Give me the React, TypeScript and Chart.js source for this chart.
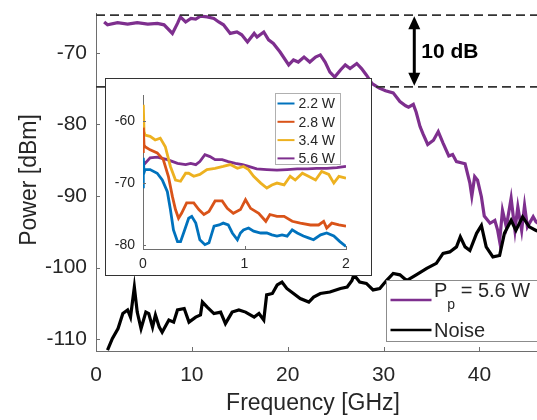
import React, { useEffect, useRef } from "react";
import { Chart, registerables } from "chart.js";
Chart.register(...registerables);

// ---------- main panel data ----------
const mainXTicks = [0, 10, 20, 30, 40];
const mainYTicks = [-110, -100, -90, -80, -70];

const pumpFreq = [0.85, 1.2, 2.25, 3.3, 4.3, 5.4, 6.4, 7.1, 7.97, 8.5, 8.8, 9.35, 9.9, 10.4, 10.9, 11.6, 12.3, 12.8, 13.3, 14.0, 14.7, 15.2, 15.8, 16.5, 16.8, 17.5, 18.0, 18.5, 19.2, 20.1, 20.6, 21.1, 21.7, 22.3, 22.9, 23.4, 23.9, 24.4, 24.9, 25.5, 26.0, 26.5, 27.2, 27.7, 28.2, 28.8, 29.5, 30.2, 31.0, 31.7, 32.3, 32.6, 33.1, 33.4, 33.8, 34.1, 34.6, 35.2, 35.7, 36.2, 36.8, 37.2, 37.6, 38.5, 39.0, 39.2, 39.5, 39.8, 40.2, 40.5, 41.1, 41.6, 41.9, 42.1, 42.4, 42.8, 43.3, 43.7, 44.0, 44.4, 44.7, 45.0, 45.6, 45.9, 46.3];
const pumpPower = [-65.7, -66.1, -65.8, -66.0, -65.8, -66.0, -65.9, -66.1, -67.3, -65.9, -65.0, -65.7, -65.2, -65.3, -64.9, -65.0, -65.2, -65.7, -66.1, -67.3, -67.1, -67.5, -68.5, -67.3, -67.8, -67.1, -68.2, -68.7, -69.9, -71.7, -71.0, -71.3, -70.6, -71.3, -70.6, -70.3, -71.3, -72.7, -73.4, -72.4, -71.7, -72.2, -71.5, -72.2, -73.1, -74.3, -74.9, -75.3, -75.6, -76.8, -77.4, -77.6, -77.2, -78.3, -80.3, -81.3, -82.8, -82.2, -81.0, -82.6, -84.4, -84.2, -85.2, -85.5, -88.2, -90.0, -87.3, -87.8, -90.1, -92.8, -93.8, -93.4, -94.8, -96.3, -92.0, -94.3, -90.3, -94.8, -91.5, -94.8, -91.3, -94.3, -92.9, -93.6, -94.0];

const noiseFreq = [1.2, 1.7, 2.3, 2.8, 3.3, 3.6, 4.0, 4.3, 4.7, 5.2, 5.5, 5.9, 6.2, 6.6, 6.9, 7.6, 8.1, 8.5, 9.2, 9.7, 10.4, 10.9, 11.1, 11.6, 12.3, 13.0, 13.5, 14.2, 14.9, 15.6, 16.5, 17.0, 17.5, 17.8, 18.4, 18.9, 19.4, 19.9, 20.6, 21.3, 22.2, 22.7, 23.4, 24.4, 25.5, 26.2, 26.7, 26.9, 27.5, 28.2, 28.9, 29.6, 30.3, 31.0, 31.7, 32.4, 33.4, 34.5, 35.5, 36.2, 36.9, 37.6, 38.0, 38.5, 39.0, 39.7, 40.2, 40.7, 41.4, 42.1, 42.6, 43.3, 43.8, 44.5, 45.2, 45.9, 46.3];
const noisePower = [-111.5, -109.9, -108.5, -106.4, -105.9, -106.9, -102.7, -106.2, -108.5, -106.2, -106.4, -108.3, -106.6, -108.3, -109.0, -107.3, -107.6, -105.9, -105.7, -107.6, -106.9, -106.6, -104.8, -105.5, -106.4, -106.2, -107.8, -106.2, -105.9, -106.2, -106.9, -106.4, -107.3, -103.8, -103.6, -102.4, -102.0, -102.9, -103.6, -104.3, -104.8, -104.1, -103.6, -103.4, -102.9, -102.7, -101.8, -101.0, -102.0, -102.2, -103.1, -102.9, -101.8, -100.8, -101.0, -101.8, -101.0, -100.1, -99.4, -98.0, -97.8, -97.1, -95.7, -97.1, -97.6, -95.2, -94.1, -97.1, -98.5, -98.3, -95.2, -93.4, -94.8, -92.9, -94.3, -94.8, -95.0];

const refLevels = [-64.75, -74.75];
const arrowFreq = 33.2;
const arrowLabel = "10 dB";
const legendMain = ["P", "p", " = 5.6 W", "Noise"];

// ---------- inset data ----------
const insetXTicks = [0, 1, 2];
const insetYTicks = [-80, -70, -60];
const insetLabels = ["2.2 W", "2.8 W", "3.4 W", "5.6 W"];

const f22 = [0, 0.003, 0.01, 0.02, 0.07, 0.14, 0.19, 0.24, 0.27, 0.30, 0.34, 0.37, 0.40, 0.45, 0.48, 0.52, 0.56, 0.61, 0.65, 0.70, 0.75, 0.79, 0.84, 0.88, 0.93, 0.96, 0.99, 1.04, 1.09, 1.16, 1.22, 1.27, 1.32, 1.37, 1.42, 1.47, 1.52, 1.58, 1.63, 1.68, 1.75, 1.81, 1.88, 1.94, 2.0];
const p22 = [-70.6, -65.9, -68.3, -67.8, -67.8, -68.4, -69.5, -71.4, -74.3, -77.6, -79.5, -79.5, -78.1, -75.7, -75.4, -76.5, -79.2, -80.0, -79.7, -77.0, -76.8, -76.5, -76.8, -78.1, -79.2, -78.1, -77.6, -77.3, -77.8, -78.1, -78.1, -78.4, -78.6, -78.4, -78.6, -77.6, -78.1, -78.6, -78.9, -79.2, -78.4, -78.1, -78.6, -79.5, -80.3];

const f28 = [0, 0.003, 0.01, 0.02, 0.07, 0.14, 0.20, 0.25, 0.29, 0.32, 0.35, 0.38, 0.43, 0.50, 0.55, 0.60, 0.65, 0.71, 0.78, 0.83, 0.89, 0.96, 1.01, 1.06, 1.14, 1.21, 1.25, 1.32, 1.39, 1.47, 1.55, 1.65, 1.73, 1.78, 1.81, 1.86, 1.93, 2.0];
const p28 = [-64.9, -61.0, -63.8, -64.1, -64.6, -65.1, -66.2, -68.9, -72.2, -74.3, -75.7, -74.9, -73.2, -73.2, -74.3, -75.1, -74.6, -72.9, -72.9, -74.1, -74.9, -74.3, -72.7, -74.1, -74.9, -76.2, -75.1, -75.4, -75.4, -76.2, -76.5, -76.8, -76.8, -76.2, -77.3, -76.5, -76.8, -77.0];

const f34 = [0, 0.003, 0.01, 0.02, 0.07, 0.12, 0.17, 0.22, 0.27, 0.32, 0.37, 0.42, 0.45, 0.50, 0.56, 0.63, 0.71, 0.79, 0.86, 0.93, 0.99, 1.04, 1.09, 1.16, 1.22, 1.27, 1.32, 1.39, 1.45, 1.50, 1.57, 1.63, 1.70, 1.76, 1.83, 1.88, 1.93, 2.0];
const p34 = [-61.4, -57.3, -61.6, -62.2, -62.4, -63.0, -62.7, -64.1, -67.3, -69.5, -69.7, -68.4, -68.4, -68.9, -68.6, -67.8, -67.6, -67.3, -67.0, -67.6, -67.3, -67.8, -68.9, -70.0, -70.8, -70.3, -70.0, -70.3, -68.9, -69.5, -68.4, -68.9, -69.5, -68.1, -68.6, -70.0, -68.9, -69.2];

const f56 = [0, 0.003, 0.02, 0.07, 0.14, 0.24, 0.34, 0.42, 0.47, 0.52, 0.56, 0.61, 0.66, 0.71, 0.78, 0.84, 0.91, 0.98, 1.04, 1.12, 1.22, 1.32, 1.42, 1.52, 1.62, 1.71, 1.81, 1.91, 2.0];
const p56 = [-68.3, -66.6, -66.8, -65.9, -65.8, -66.2, -66.8, -67.0, -66.8, -67.0, -66.5, -65.4, -65.7, -66.2, -66.2, -66.5, -66.8, -67.0, -67.3, -67.7, -67.8, -67.9, -67.8, -67.7, -67.7, -67.6, -67.6, -67.5, -67.3];

// ---------- styles ----------
const FONT = "'Liberation Sans', Arial, Helvetica, sans-serif";
const TEXT = "#262626";
const AXIS = "#6e6e6e";
const PURPLE = "#7E2F8E";
const BLUE = "#0072BD";
const ORANGE = "#D95319";
const YELLOW = "#EDB120";

const pts = (xs: number[], ys: number[]) => xs.map((x, i) => ({ x, y: ys[i] }));

const noPadX = (h: number) => (s: any) => { s.height = h; s.paddingLeft = 0; s.paddingRight = 0; };
const noPadY = (w: number) => (s: any) => { s.width = w; s.paddingTop = 0; s.paddingBottom = 0; };

const mainDecor = {
  id: "mainDecor",
  afterDraw(chart: any) {
    const { ctx, chartArea, scales } = chart;
    const x = scales.x;
    const y = scales.y;
    ctx.save();
    // inward ticks
    ctx.strokeStyle = AXIS;
    ctx.lineWidth = 1;
    ctx.beginPath();
    mainXTicks.forEach((v) => {
      const px = Math.round(x.getPixelForValue(v)) + 0.5;
      ctx.moveTo(px, chartArea.bottom);
      ctx.lineTo(px, chartArea.bottom - 4);
    });
    mainYTicks.forEach((v) => {
      const py = Math.round(y.getPixelForValue(v)) + 0.5;
      ctx.moveTo(chartArea.left, py);
      ctx.lineTo(chartArea.left + 4, py);
    });
    ctx.stroke();

    // arrow
    const ax = x.getPixelForValue(arrowFreq);
    const y1 = y.getPixelForValue(refLevels[0]);
    const y2 = y.getPixelForValue(refLevels[1]);
    ctx.strokeStyle = "#000";
    ctx.fillStyle = "#000";
    ctx.lineWidth = 3;
    ctx.beginPath();
    ctx.moveTo(ax, y1 + 10);
    ctx.lineTo(ax, y2 - 10);
    ctx.stroke();
    ctx.beginPath();
    ctx.moveTo(ax, y1 + 1);
    ctx.lineTo(ax - 6, y1 + 14);
    ctx.lineTo(ax + 6, y1 + 14);
    ctx.closePath();
    ctx.fill();
    ctx.beginPath();
    ctx.moveTo(ax, y2 - 1);
    ctx.lineTo(ax - 6, y2 - 14);
    ctx.lineTo(ax + 6, y2 - 14);
    ctx.closePath();
    ctx.fill();
    ctx.font = `bold 21px ${FONT}`;
    ctx.textBaseline = "middle";
    ctx.textAlign = "left";
    ctx.fillText(arrowLabel, ax + 7, (y1 + y2) / 2 + 1);

    // axis titles
    ctx.fillStyle = TEXT;
    ctx.font = `23px ${FONT}`;
    ctx.textAlign = "center";
    ctx.textBaseline = "middle";
    ctx.fillText("Frequency [GHz]", 313, 404);
    ctx.save();
    ctx.translate(30, 180);
    ctx.rotate(-Math.PI / 2);
    ctx.fillText("Power [dBm]", 0, 0);
    ctx.restore();

    // legend
    const lx = 386.5, ly = 280.5;
    ctx.fillStyle = "#fff";
    ctx.fillRect(lx, ly, 170, 61);
    ctx.strokeStyle = "#8c8c8c";
    ctx.lineWidth = 1;
    ctx.strokeRect(lx, ly, 170, 61);
    ctx.lineWidth = 2.5;
    ctx.strokeStyle = PURPLE;
    ctx.beginPath();
    ctx.moveTo(lx + 4, ly + 19.5);
    ctx.lineTo(lx + 45, ly + 19.5);
    ctx.stroke();
    ctx.strokeStyle = "#000";
    ctx.beginPath();
    ctx.moveTo(lx + 4, ly + 49.5);
    ctx.lineTo(lx + 45, ly + 49.5);
    ctx.stroke();
    ctx.fillStyle = TEXT;
    ctx.textAlign = "left";
    ctx.textBaseline = "middle";
    ctx.font = `20px ${FONT}`;
    let tx = lx + 47.5;
    ctx.fillText(legendMain[0], tx, ly + 11);
    tx += ctx.measureText(legendMain[0]).width;
    ctx.font = `14px ${FONT}`;
    ctx.fillText(legendMain[1], tx, ly + 25);
    tx += ctx.measureText(legendMain[1]).width;
    ctx.font = `20px ${FONT}`;
    ctx.fillText(legendMain[2], tx, ly + 11);
    ctx.fillText(legendMain[3], lx + 47.5, ly + 51);
    ctx.restore();
  },
};

const insetDecor = {
  id: "insetDecor",
  afterDraw(chart: any) {
    const { ctx, chartArea, scales } = chart;
    const x = scales.x;
    const y = scales.y;
    ctx.save();
    ctx.strokeStyle = AXIS;
    ctx.lineWidth = 1;
    ctx.beginPath();
    insetXTicks.forEach((v) => {
      const px = Math.round(x.getPixelForValue(v)) + 0.5;
      ctx.moveTo(px, chartArea.bottom);
      ctx.lineTo(px, chartArea.bottom - 3);
    });
    insetYTicks.forEach((v) => {
      const py = Math.round(y.getPixelForValue(v)) + 0.5;
      ctx.moveTo(chartArea.left, py);
      ctx.lineTo(chartArea.left + 3, py);
    });
    ctx.stroke();

    // legend
    const lx = 169.5, ly = 14.5;
    ctx.fillStyle = "#fff";
    ctx.fillRect(lx, ly, 65, 71);
    ctx.strokeStyle = "#b0b0b0";
    ctx.strokeRect(lx, ly, 65, 71);
    const colors = [BLUE, ORANGE, YELLOW, PURPLE];
    ctx.font = `14px ${FONT}`;
    ctx.textAlign = "left";
    ctx.textBaseline = "middle";
    insetLabels.forEach((lab, i) => {
      const cy = ly + 10 + i * 18.3;
      ctx.strokeStyle = colors[i];
      ctx.lineWidth = 2;
      ctx.beginPath();
      ctx.moveTo(lx + 2, cy);
      ctx.lineTo(lx + 19, cy);
      ctx.stroke();
      ctx.fillStyle = TEXT;
      ctx.fillText(lab, lx + 23, cy + 1);
    });
    ctx.restore();
  },
};

export default function App() {
  const mainRef = useRef<HTMLCanvasElement | null>(null);
  const insetRef = useRef<HTMLCanvasElement | null>(null);

  useEffect(() => {
    const lineDs = (label: string, data: any[], color: string, width: number, dash?: number[]) => ({
      label,
      data,
      borderColor: color,
      backgroundColor: color,
      borderWidth: width,
      borderDash: dash || [],
      pointRadius: 0,
      tension: 0,
      fill: false,
    });

    const main = new Chart(mainRef.current as HTMLCanvasElement, {
      type: "line",
      data: {
        datasets: [
          lineDs("ref1", pts([0, 47], [refLevels[0], refLevels[0]]), "#333333", 1.8, [9, 5]),
          lineDs("ref2", pts([0, 47], [refLevels[1], refLevels[1]]), "#333333", 1.8, [9, 5]),
          lineDs("Noise", pts(noiseFreq, noisePower), "#000000", 3.2),
          lineDs("Pp = 5.6 W", pts(pumpFreq, pumpPower), PURPLE, 3.2),
        ],
      },
      options: {
        responsive: false,
        animation: false,
        layout: { padding: { top: 13, right: 0, left: 0, bottom: 0 } },
        plugins: { legend: { display: false }, tooltip: { enabled: false } },
        scales: {
          x: {
            type: "linear",
            min: 0,
            max: 46,
            afterFit: noPadX(69),
            afterBuildTicks: (s: any) => { s.ticks = mainXTicks.map((v) => ({ value: v })); },
            grid: { display: false, drawTicks: false },
            border: { display: true, color: AXIS, width: 1 },
            ticks: { color: TEXT, font: { family: FONT, size: 21 }, padding: 12, maxRotation: 0 },
          },
          y: {
            type: "linear",
            min: -111.63,
            max: -64.45,
            afterFit: noPadY(96),
            afterBuildTicks: (s: any) => { s.ticks = mainYTicks.map((v) => ({ value: v })); },
            grid: { display: false, drawTicks: false },
            border: { display: true, color: AXIS, width: 1 },
            ticks: { color: TEXT, font: { family: FONT, size: 21 }, padding: 9 },
          },
        },
      },
      plugins: [mainDecor],
    } as any);

    const inset = new Chart(insetRef.current as HTMLCanvasElement, {
      type: "line",
      data: {
        datasets: [
          lineDs(insetLabels[0], pts(f22, p22), BLUE, 2.8),
          lineDs(insetLabels[1], pts(f28, p28), ORANGE, 2.8),
          lineDs(insetLabels[2], pts(f34, p34), YELLOW, 2.8),
          lineDs(insetLabels[3], pts(f56, p56), PURPLE, 2.8),
        ],
      },
      options: {
        responsive: false,
        animation: false,
        layout: { padding: { top: 16, right: 25, left: 0, bottom: 0 } },
        plugins: { legend: { display: false }, tooltip: { enabled: false } },
        scales: {
          x: {
            type: "linear",
            min: 0,
            max: 2,
            afterFit: noPadX(26),
            afterBuildTicks: (s: any) => { s.ticks = insetXTicks.map((v) => ({ value: v })); },
            grid: { display: false, drawTicks: false },
            border: { display: true, color: AXIS, width: 1 },
            ticks: { color: TEXT, font: { family: FONT, size: 14 }, padding: 7, maxRotation: 0 },
          },
          y: {
            type: "linear",
            min: -80.7,
            max: -55.7,
            afterFit: noPadY(37),
            afterBuildTicks: (s: any) => { s.ticks = insetYTicks.map((v) => ({ value: v })); },
            grid: { display: false, drawTicks: false },
            border: { display: true, color: AXIS, width: 1 },
            ticks: { color: TEXT, font: { family: FONT, size: 14 }, padding: 8 },
          },
        },
      },
      plugins: [insetDecor],
    } as any);

    return () => {
      main.destroy();
      inset.destroy();
    };
  }, []);

  return (
    <div style={{ position: "fixed", left: 0, top: 0, width: 537, height: 420, background: "#fff", overflow: "hidden" }}>
      <canvas ref={mainRef} width={537} height={420} style={{ position: "absolute", left: 0, top: 0 }} />
      <div
        style={{
          position: "absolute",
          left: 105,
          top: 78,
          width: 265,
          height: 196,
          border: "1px solid #333",
          background: "#fff",
        }}
      >
        <canvas ref={insetRef} width={265} height={196} style={{ display: "block" }} />
      </div>
    </div>
  );
}
